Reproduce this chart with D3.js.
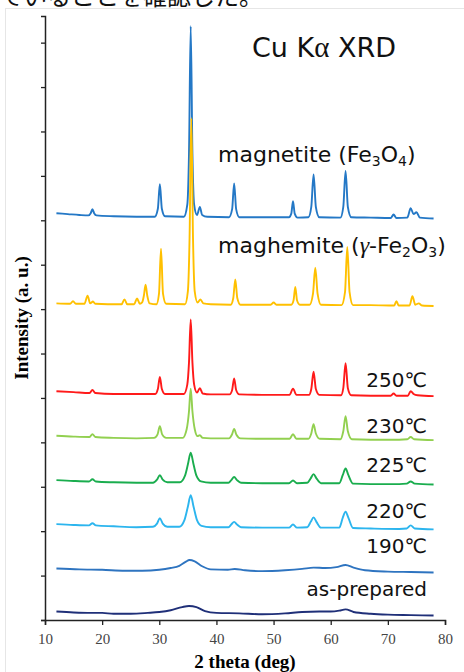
<!DOCTYPE html>
<html>
<head>
<meta charset="utf-8">
<script src="https://cdn.jsdelivr.net/npm/d3@7"></script>
<style>
  html, body { margin: 0; padding: 0; background: #fff; }
  svg { display: block; }
</style>
</head>
<body>
<div id="chart"></div>
<script>
// ---- Data (2θ in degrees, intensity in arbitrary offset units) ----
const xTicks = [10, 20, 30, 40, 50, 60, 70, 80];
const yTicks = [0, 1, 2, 3, 4, 5, 6, 7, 8, 9, 10, 11, 12, 13];

const seriesNames = ["magnetite", "maghemite", "250℃", "230℃", "225℃", "220℃", "190℃", "as-prepared"];
const seriesColors = ["#2478c6", "#ffc000", "#ff1a1a", "#92d050", "#1aad4e", "#2cb5ee", "#2e74c0", "#1f2f78"];

const magnetite = [
  [12, 9.16], [14, 9.14], [16, 9.12], [17.6, 9.11], [18.0, 9.16], [18.3, 9.25], [18.6, 9.16], [19.0, 9.11],
  [22, 9.09], [26, 9.08], [29.2, 9.08], [29.75, 9.26], [30.1, 9.81], [30.45, 9.26], [31.0, 9.09],
  [34.3, 9.08], [34.9, 9.35], [35.2, 10.5], [35.5, 13.37], [35.8, 10.5], [36.1, 9.35], [36.6, 9.12],
  [37.1, 9.30], [37.5, 9.12], [38.4, 9.08], [42.2, 9.07], [42.75, 9.25], [43.1, 9.83], [43.45, 9.25],
  [44.0, 9.07], [48, 9.07], [52.7, 9.07], [53.1, 9.15], [53.4, 9.43], [53.7, 9.15], [54.2, 9.06],
  [56.1, 9.07], [56.6, 9.3], [57.0, 10.03], [57.4, 9.3], [58.0, 9.07], [61.7, 9.06], [62.2, 9.30],
  [62.6, 10.11], [63.0, 9.30], [63.6, 9.07], [67, 9.06], [70.5, 9.05], [71.0, 9.13], [71.5, 9.05],
  [73.4, 9.06], [74.0, 9.27], [74.5, 9.14], [75.0, 9.18], [75.6, 9.06], [78, 9.04]
];
const maghemite = [
  [12, 7.13], [14.4, 7.12], [14.9, 7.18], [15.4, 7.12], [16.9, 7.12], [17.45, 7.30], [17.9, 7.13],
  [18.4, 7.17], [18.8, 7.12], [21, 7.11], [23.4, 7.11], [23.9, 7.22], [24.4, 7.11], [25.6, 7.11],
  [26.1, 7.24], [26.6, 7.12], [27.0, 7.15], [27.3, 7.3], [27.6, 7.55], [27.9, 7.3], [28.3, 7.13],
  [29.5, 7.11], [29.95, 7.35], [30.3, 8.36], [30.65, 7.35], [31.2, 7.12], [34.5, 7.11], [35.0, 7.4],
  [35.3, 8.6], [35.6, 11.30], [35.9, 8.6], [36.2, 7.4], [36.7, 7.15], [37.2, 7.22], [37.7, 7.13],
  [39, 7.11], [42.5, 7.10], [42.95, 7.25], [43.3, 7.67], [43.65, 7.25], [44.2, 7.1], [47, 7.1],
  [49.5, 7.1], [50.0, 7.15], [50.5, 7.1], [53.1, 7.1], [53.5, 7.2], [53.8, 7.50], [54.1, 7.2],
  [54.6, 7.1], [56.3, 7.1], [56.9, 7.35], [57.3, 7.93], [57.7, 7.35], [58.3, 7.1], [61.9, 7.09],
  [62.5, 7.38], [62.9, 8.40], [63.3, 7.38], [63.9, 7.09], [67, 7.09], [71.1, 7.08], [71.5, 7.18],
  [71.9, 7.08], [73.8, 7.08], [74.3, 7.29], [74.8, 7.1], [75.4, 7.13], [76, 7.08], [78, 7.07]
];
const t250 = [
  [12, 5.15], [15, 5.13], [17.8, 5.11], [18.3, 5.18], [18.8, 5.11], [22, 5.09], [26, 5.09], [29.3, 5.09],
  [29.75, 5.2], [30.1, 5.475], [30.45, 5.2], [31.0, 5.09], [34.3, 5.09], [34.9, 5.3], [35.2, 5.8],
  [35.5, 6.77], [35.8, 5.8], [36.1, 5.3], [36.6, 5.12], [37.1, 5.22], [37.6, 5.1], [39, 5.08],
  [42.3, 5.08], [42.75, 5.18], [43.1, 5.44], [43.45, 5.18], [44, 5.08], [48, 5.07], [52.8, 5.07],
  [53.4, 5.21], [54.0, 5.07], [56.2, 5.07], [56.6, 5.2], [57.0, 5.59], [57.4, 5.2], [58.0, 5.07],
  [61.8, 5.06], [62.2, 5.22], [62.6, 5.78], [63.0, 5.22], [63.6, 5.06], [67, 5.05], [70.5, 5.05],
  [71.0, 5.10], [71.5, 5.05], [73.5, 5.05], [74.0, 5.15], [74.5, 5.09], [75.2, 5.06], [78, 5.04]
];
const t230 = [
  [12, 4.15], [15, 4.13], [17.8, 4.12], [18.3, 4.185], [18.8, 4.12], [22, 4.10], [26, 4.09], [29.1, 4.10],
  [29.7, 4.18], [30.1, 4.365], [30.5, 4.18], [31.2, 4.10], [34.1, 4.10], [34.8, 4.3], [35.2, 4.7],
  [35.5, 5.21], [35.8, 4.7], [36.2, 4.3], [36.7, 4.14], [37.1, 4.16], [37.6, 4.1], [39, 4.09],
  [42.2, 4.09], [42.7, 4.17], [43.1, 4.30], [43.5, 4.17], [44.2, 4.09], [48, 4.08], [52.8, 4.08],
  [53.4, 4.185], [54.0, 4.08], [56.1, 4.08], [56.6, 4.2], [57.0, 4.41], [57.4, 4.2], [58.1, 4.08],
  [61.7, 4.07], [62.2, 4.25], [62.6, 4.59], [63.0, 4.25], [63.7, 4.07], [67, 4.06], [72, 4.06],
  [73.4, 4.07], [74.0, 4.12], [74.6, 4.07], [78, 4.05]
];
const t225 = [
  [12, 3.15], [15, 3.13], [17.7, 3.12], [18.3, 3.17], [18.9, 3.12], [22, 3.10], [26, 3.09], [28.9, 3.09],
  [29.6, 3.16], [30.1, 3.26], [30.6, 3.16], [31.4, 3.10], [33.6, 3.10], [34.5, 3.25], [35.0, 3.5],
  [35.5, 3.765], [36.0, 3.5], [36.5, 3.25], [37.3, 3.12], [39, 3.09], [42.1, 3.09], [42.6, 3.15],
  [43.1, 3.22], [43.6, 3.15], [44.3, 3.09], [48, 3.08], [52.7, 3.08], [53.4, 3.14], [54.1, 3.08],
  [55.9, 3.09], [56.5, 3.19], [57.0, 3.285], [57.5, 3.19], [58.3, 3.08], [61.5, 3.08], [62.1, 3.26],
  [62.6, 3.41], [63.1, 3.26], [63.9, 3.07], [67, 3.06], [72, 3.06], [73.3, 3.07], [74.0, 3.12],
  [74.7, 3.07], [78, 3.05]
];
const t220 = [
  [12, 2.16], [15, 2.14], [17.7, 2.13], [18.3, 2.18], [18.9, 2.13], [22, 2.11], [26, 2.09], [28.9, 2.10],
  [29.6, 2.17], [30.1, 2.295], [30.6, 2.17], [31.4, 2.10], [33.5, 2.10], [34.4, 2.25], [35.0, 2.55],
  [35.5, 2.81], [36.0, 2.55], [36.6, 2.25], [37.4, 2.12], [39, 2.09], [42.1, 2.09], [42.6, 2.15],
  [43.1, 2.21], [43.6, 2.15], [44.3, 2.09], [48, 2.08], [52.7, 2.08], [53.4, 2.15], [54.1, 2.08],
  [55.9, 2.09], [56.5, 2.21], [57.0, 2.31], [57.5, 2.21], [58.3, 2.08], [61.5, 2.08], [62.1, 2.30],
  [62.6, 2.44], [63.1, 2.30], [63.9, 2.07], [67, 2.06], [72, 2.05], [73.3, 2.06], [74.0, 2.13],
  [74.7, 2.06], [78, 2.04]
];
const t190 = [
  [12, 1.16], [16, 1.14], [20, 1.13], [24, 1.11], [27, 1.11], [30, 1.13], [32, 1.17], [33.5, 1.22],
  [34.6, 1.31], [35.3, 1.35], [36.2, 1.32], [37.5, 1.21], [39, 1.14], [42, 1.13], [43.2, 1.15],
  [45, 1.12], [48, 1.10], [52, 1.12], [55, 1.15], [57, 1.18], [59, 1.17], [61, 1.19], [62.6, 1.24],
  [64, 1.18], [66, 1.12], [70, 1.09], [74, 1.08], [78, 1.07]
];
const asPrepared = [
  [12, 0.19], [15, 0.17], [18, 0.16], [20, 0.16], [22, 0.14], [25, 0.14], [28, 0.16], [30, 0.18],
  [32, 0.22], [34, 0.29], [35.2, 0.315], [36.5, 0.29], [38, 0.2], [40, 0.16], [44, 0.15], [48, 0.13],
  [52, 0.15], [55, 0.18], [58, 0.19], [60, 0.19], [61.5, 0.21], [62.6, 0.24], [64, 0.18], [67, 0.14],
  [70, 0.12], [74, 0.11], [78, 0.10]
];
const seriesData = [magnetite, maghemite, t250, t230, t225, t220, t190, asPrepared];

const tempLabels = ["250℃", "230℃", "225℃", "220℃", "190℃", "as-prepared"];
const tempLabelY = [5.25, 4.21, 3.33, 2.30, 1.51, 0.55];

// ---- Drawing ----
const W = 464, H = 672;
const svg = d3.select("#chart").append("svg").attr("width", W).attr("height", H);

// cut-off caption text at the very top and faint frame
svg.append("text").attr("x", -1).attr("y", 5)
  .attr("font-family", "'Noto Sans CJK JP'").attr("font-size", 24).attr("fill", "#111")
  .text("ていることを確認した。");
svg.append("rect").attr("x", 5.5).attr("y", 8.5).attr("width", 470).attr("height", 680)
  .attr("fill", "none").attr("stroke", "#e6e6e6");

const x = d3.scaleLinear().domain([10, 80]).range([45, 445]);
const y = d3.scaleLinear().domain([0, 13.6]).range([620, 16]);

const xAxis = svg.append("g").attr("transform", "translate(0,620)")
  .call(d3.axisBottom(x).tickValues(xTicks).tickSize(5).tickPadding(8).tickFormat(d3.format("d")));
xAxis.select(".domain").attr("stroke", "#222").attr("stroke-width", 1.5);
xAxis.selectAll(".tick line").attr("stroke", "#222").attr("stroke-width", 1.3);
xAxis.selectAll(".tick text").attr("font-family", "'Liberation Serif', serif").attr("font-size", 15).attr("fill", "#444");

const yAxis = svg.append("g").attr("transform", "translate(45,0)")
  .call(d3.axisLeft(y).tickValues(yTicks).tickSize(4).tickFormat(""));
yAxis.select(".domain").attr("stroke", "#222").attr("stroke-width", 1.5);
yAxis.selectAll(".tick line").attr("stroke", "#222").attr("stroke-width", 1.3);

const line = d3.line().x(d => x(d[0])).y(d => y(d[1])).curve(d3.curveMonotoneX);
svg.append("g").selectAll("path").data(seriesData).join("path")
  .attr("d", line).attr("fill", "none")
  .attr("stroke", (d, i) => seriesColors[i]).attr("stroke-width", 1.9)
  .attr("stroke-linejoin", "round");

// axis titles
svg.append("text").attr("x", 245).attr("y", 668).attr("text-anchor", "middle")
  .attr("font-family", "'Liberation Serif', serif").attr("font-weight", "bold").attr("font-size", 19)
  .text("2 theta (deg)");
svg.append("text").attr("transform", "translate(28,318) rotate(-90)").attr("text-anchor", "middle")
  .attr("font-family", "'Liberation Serif', serif").attr("font-weight", "bold").attr("font-size", 19)
  .text("Intensity (a. u.)");

// annotations
const sans = "'DejaVu Sans', sans-serif";
const title = svg.append("text").attr("x", 324).attr("y", 57).attr("text-anchor", "middle")
  .attr("font-family", sans).attr("font-size", 27).attr("fill", "#111");
title.append("tspan").text("Cu K");
title.append("tspan").attr("font-family", "'Liberation Serif', serif").attr("font-size", 29).text("α");
title.append("tspan").text(" XRD");

const mag = svg.append("text").attr("x", 218).attr("y", 162).attr("font-family", sans).attr("font-size", 22).attr("fill", "#111");
mag.append("tspan").text("magnetite (Fe");
mag.append("tspan").attr("font-size", 14).attr("dy", 4).text("3");
mag.append("tspan").attr("dy", -4).text("O");
mag.append("tspan").attr("font-size", 14).attr("dy", 4).text("4");
mag.append("tspan").attr("dy", -4).text(")");

const mgh = svg.append("text").attr("x", 218).attr("y", 253).attr("font-family", sans).attr("font-size", 22).attr("fill", "#111");
mgh.append("tspan").text("maghemite (");
mgh.append("tspan").attr("font-family", "'Liberation Serif', serif").attr("font-style", "italic").attr("font-size", 24).text("γ");
mgh.append("tspan").text("-Fe");
mgh.append("tspan").attr("font-size", 14).attr("dy", 4).text("2");
mgh.append("tspan").attr("dy", -4).text("O");
mgh.append("tspan").attr("font-size", 14).attr("dy", 4).text("3");
mgh.append("tspan").attr("dy", -4).text(")");

svg.append("g").selectAll("text").data(tempLabels).join("text")
  .attr("x", 427).attr("y", (d, i) => y(tempLabelY[i]))
  .attr("text-anchor", "end").attr("font-family", sans).attr("font-size", 20).attr("fill", "#111")
  .text(d => d);
</script>
</body>
</html>
